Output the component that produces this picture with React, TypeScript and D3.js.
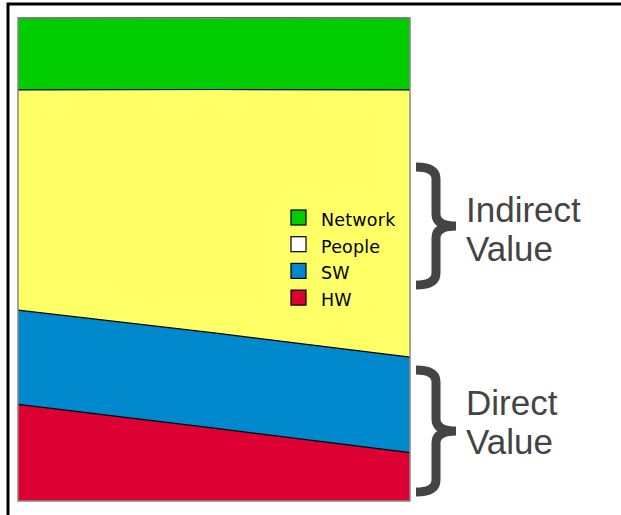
import React, { useEffect, useRef } from 'react';
import * as d3 from 'd3';

// value shares, left / middle / right of the plot
const stages = ['start', 'middle', 'end'];
const hw = [20, 15.1, 10];
const sw = [19.5, 19.7, 19.8];
const people = [45.6, 50.4, 55.3];
const network = [14.9, 14.9, 14.9];

const keys = ['HW', 'SW', 'People', 'Network'];
const legendKeys = ['Network', 'People', 'SW', 'HW'];
const areaColors = { HW: '#dd0033', SW: '#0088cc', People: '#ffff66', Network: '#00cc00' };
const legendColors = { HW: '#dd0033', SW: '#0088cc', People: '#ffffff', Network: '#00cc00' };

const App = () => {
    const svgRef = useRef(null);

    useEffect(() => {
        const width = 621;
        const height = 515;
        const svg = d3.select(svgRef.current);
        svg.selectAll('*').remove();
        svg.attr('width', width).attr('height', height);

        const left = 18, right = 410, top = 18, bottom = 501;

        const rows = stages.map((s, i) => ({
            stage: s, HW: hw[i], SW: sw[i], People: people[i], Network: network[i]
        }));
        const series = d3.stack().keys(keys)(rows);

        const x = d3.scalePoint().domain(stages).range([left, right]);
        const y = d3.scaleLinear().domain([0, 100]).range([bottom, top]);

        // outer frame (cut at right and bottom)
        svg.append('rect')
            .attr('x', 8).attr('y', 4)
            .attr('width', 700).attr('height', 600)
            .attr('fill', 'white')
            .attr('stroke', 'black')
            .attr('stroke-width', 3);

        const area = d3.area()
            .x(d => x(d.data.stage))
            .y0(d => y(d[0]))
            .y1(d => y(d[1]));
        const topLine = d3.line()
            .x(d => x(d.data.stage))
            .y(d => y(d[1]));

        const g = svg.append('g');
        g.selectAll('path.area')
            .data(series)
            .enter()
            .append('path')
            .attr('class', 'area')
            .attr('d', area)
            .attr('fill', d => areaColors[d.key]);
        g.selectAll('path.edge')
            .data(series)
            .enter()
            .append('path')
            .attr('class', 'edge')
            .attr('d', topLine)
            .attr('fill', 'none')
            .attr('stroke', 'black')
            .attr('stroke-width', 1.2);

        g.append('rect')
            .attr('x', left).attr('y', top)
            .attr('width', right - left).attr('height', bottom - top)
            .attr('fill', 'none')
            .attr('stroke', '#888')
            .attr('stroke-width', 1.5);

        // legend
        const legend = svg.append('g').attr('transform', 'translate(291, 210)');
        const items = legend.selectAll('g')
            .data(legendKeys)
            .enter()
            .append('g')
            .attr('transform', (d, i) => `translate(0, ${i * 26.7})`);
        items.append('rect')
            .attr('width', 15).attr('height', 15)
            .attr('fill', d => legendColors[d])
            .attr('stroke', 'black')
            .attr('stroke-width', 1.2);
        items.append('text')
            .attr('x', 30)
            .attr('y', 16)
            .attr('font-family', 'DejaVu Sans')
            .attr('font-size', 17.5)
            .attr('letter-spacing', 0.2)
            .attr('fill', 'black')
            .text(d => d);

        // braces and labels
        const brace = (x0, x1, tip, y0, y1) => {
            const mid = (y0 + y1) / 2;
            const r = 12;
            return `M${x0},${y0} Q${x1},${y0} ${x1},${y0 + r} L${x1},${mid - r} Q${x1},${mid} ${tip},${mid}` +
                ` Q${x1},${mid} ${x1},${mid + r} L${x1},${y1 - r} Q${x1},${y1} ${x0},${y1}`;
        };
        const groups = [
            { y0: 167, y1: 285, lines: ['Indirect', 'Value'], base: 222 },
            { y0: 370, y1: 492, lines: ['Direct', 'Value'], base: 415 }
        ];
        groups.forEach(gr => {
            svg.append('path')
                .attr('d', brace(416, 436, 456, gr.y0, gr.y1))
                .attr('fill', 'none')
                .attr('stroke', '#444')
                .attr('stroke-width', 9);
            gr.lines.forEach((t, i) => {
                svg.append('text')
                    .attr('x', 466)
                    .attr('y', gr.base + i * 39)
                    .attr('font-family', 'Liberation Sans, Arial, sans-serif')
                    .attr('font-size', 35)
                    .attr('fill', '#444')
                    .text(t);
            });
        });
    }, []);

    return (
        <div style={{ position: 'absolute', left: 0, top: 0 }}>
            <svg ref={svgRef}></svg>
        </div>
    );
};

export default App;
